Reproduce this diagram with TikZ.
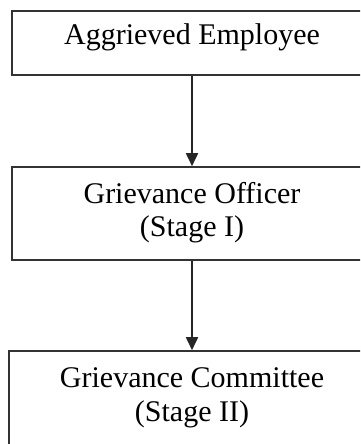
\documentclass[tikz,border=0pt]{standalone}
\usepackage{fontspec}
\setmainfont{Liberation Serif}
\usetikzlibrary{arrows.meta}
\begin{document}
\begin{tikzpicture}[x=1pt,y=-1pt,
  box/.style={draw=black!80, line width=1.6pt, inner sep=0pt, minimum width=360pt},
  lbl/.style={anchor=base, inner sep=0pt, font=\fontsize{30}{34}\selectfont, text=black},
  flow/.style={draw=black!85, line width=1.8pt, -{Triangle[length=13pt,width=12pt]}}]
\useasboundingbox (0,0) rectangle (360,444);
\clip (0,0) rectangle (360,444);

% process boxes (running past the right and bottom edges)
\node[box, minimum height=64pt] (b1) at (192,43) {};
\node[box, minimum height=93pt] (b2) at (192,213.5) {};
\node[box, minimum width=366pt, minimum height=110pt] (b3) at (192,406) {};

% box texts
\node[lbl] (t1) at (192,45) {Aggrieved Employee};
\node[lbl] (t2a) at (192,203) {Grievance Officer};
\node[lbl] (t2b) at (192,236) {(Stage I)};
\node[lbl] (t3a) at (192,387) {Grievance Committee};
\node[lbl] (t3b) at (192,421) {(Stage II)};

% connectors
\draw[flow] (b1.south) -- (b2.north);
\draw[flow] (b2.south) -- (b3.north);
\end{tikzpicture}
\end{document}
